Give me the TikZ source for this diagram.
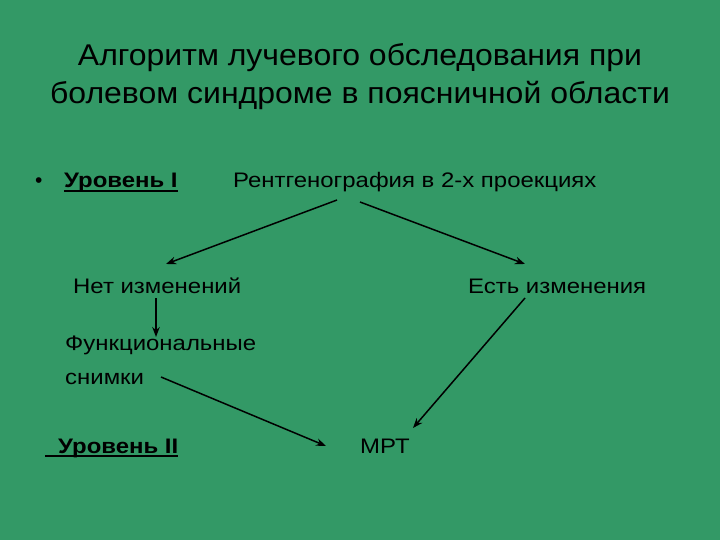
\documentclass[tikz,border=0pt]{standalone}
\usepackage{fontspec}
\setmainfont{Liberation Sans}
\usetikzlibrary{arrows.meta}
\definecolor{bg}{HTML}{339966}
\newcommand\stretchx[1]{\scalebox{1.14}[1]{#1}}
\newcommand\ulbold[1]{\stretchx{\textbf{#1}}}
\tikzset{
  txt/.style={font=\fontsize{21}{25}\selectfont, inner sep=0pt, anchor=base west, text=black},
  ttl/.style={font=\fontsize{30}{34}\selectfont, inner sep=0pt, anchor=base, text=black},
  arr/.style={draw=black, line width=1.5pt, -{Stealth[length=10pt,width=7.5pt]}},
  uline/.style={draw=black, line width=1.6pt}
}
\begin{document}
\begin{tikzpicture}[x=1pt,y=-1pt]
\fill[bg] (0,0) rectangle (720,540);
\useasboundingbox (0,0) rectangle (720,540);
\node[ttl] (t1) at (360,66) {\scalebox{1.066}[1]{Алгоритм лучевого обследования при}};
\node[ttl] (t2) at (360,104) {\scalebox{1.066}[1]{болевом синдроме в поясничной области}};
\node[txt] (bul) at (35,188) {•};
\node[txt] (l1) at (64,188) {\ulbold{Уровень I}};
\draw[uline] ([yshift=-3pt]l1.base west) -- ([yshift=-3pt]l1.base east);
\node[txt] (rg) at (233,188) {\stretchx{Рентгенография в 2-х проекциях}};
\node[txt] (net) at (73,293) {\stretchx{Нет изменений}};
\node[txt] (est) at (468,293) {\stretchx{Есть изменения}};
\node[txt] (fun) at (65,350) {\stretchx{Функциональные}};
\node[txt] (sn) at (65,384) {\stretchx{снимки}};
\node[txt] (l2) at (58,453) {\ulbold{Уровень II}};
\coordinate (u2s) at (45,456);
\draw[uline] (u2s) -- ([yshift=-3pt]l2.base east);
\node[txt] (mrt) at (360,453) {\stretchx{МРТ}};
\coordinate (a1s) at (337,200); \coordinate (a1e) at (166,264);
\coordinate (a2s) at (360,202); \coordinate (a2e) at (525,264);
\coordinate (a3s) at (156,298); \coordinate (a3e) at (156,337);
\coordinate (a4s) at (161,377); \coordinate (a4e) at (326,446);
\coordinate (a5s) at (525,298); \coordinate (a5e) at (413,428);
\draw[arr] (a1s) -- (a1e);
\draw[arr] (a2s) -- (a2e);
\draw[arr] (a3s) -- (a3e);
\draw[arr] (a4s) -- (a4e);
\draw[arr] (a5s) -- (a5e);
\end{tikzpicture}
\end{document}
